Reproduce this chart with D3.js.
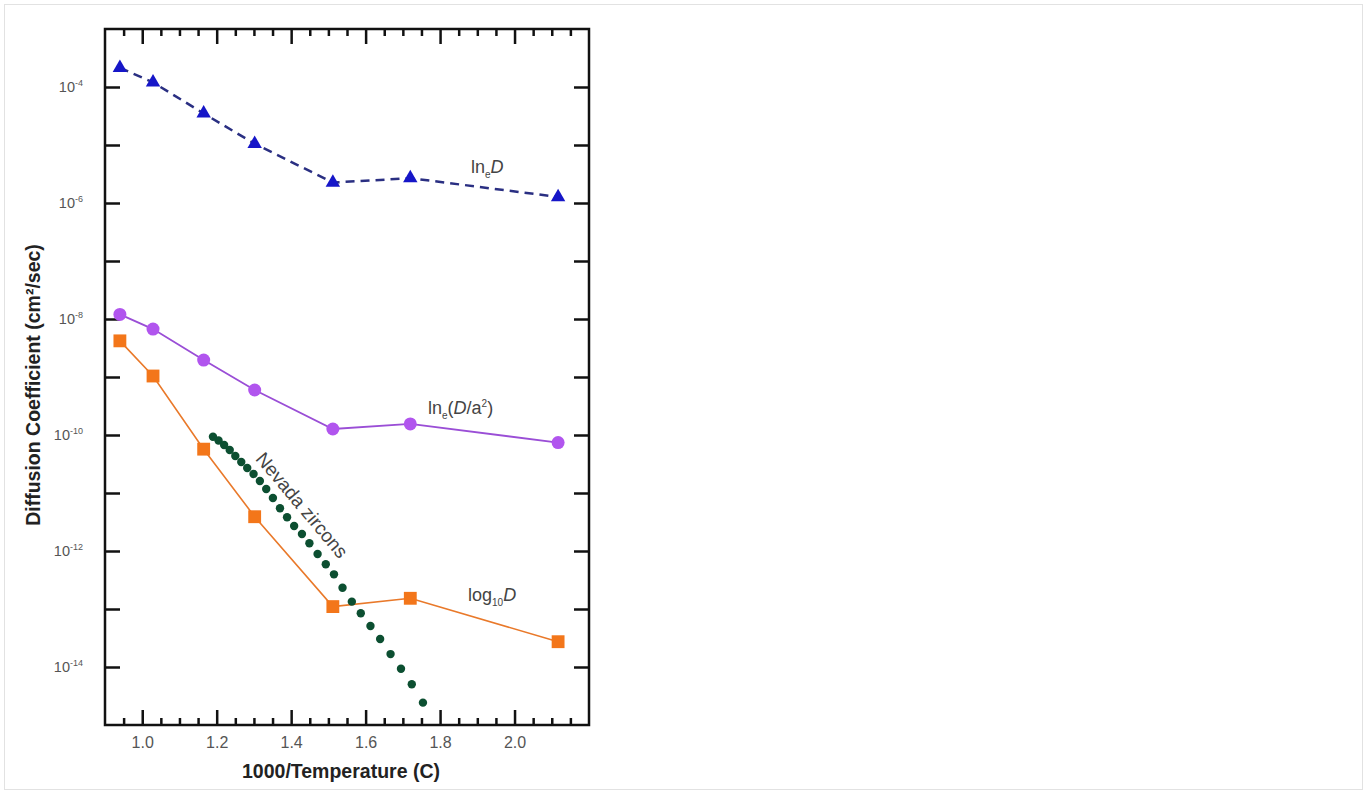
<!DOCTYPE html>
<html>
<head>
<meta charset="utf-8">
<script src="https://cdn.jsdelivr.net/npm/d3@7"></script>
<style>
  html, body { margin: 0; padding: 0; background: #fff; }
  svg { display: block; }
  text { font-family: Arial, "Liberation Sans", sans-serif; }
</style>
</head>
<body>
<svg id="chart" width="1368" height="794"></svg>
<script>
// ---- data ----
const xSteps = [0.940, 1.029, 1.165, 1.302, 1.512, 1.720, 2.117];
const lnD = [2.15e-4, 1.2e-4, 3.5e-5, 1.05e-5, 2.25e-6, 2.68e-6, 1.27e-6];
const lnDa2 = [1.2e-8, 6.7e-9, 1.96e-9, 5.97e-10, 1.27e-10, 1.55e-10, 7.4e-11];
const log10D = [4.2e-9, 1.04e-9, 5.7e-11, 3.9e-12, 1.1e-13, 1.53e-13, 2.73e-14];

const nevadaX = [1.190, 1.205, 1.220, 1.235, 1.250, 1.266, 1.282, 1.299, 1.316, 1.333,
                 1.351, 1.370, 1.389, 1.408, 1.429, 1.449, 1.471, 1.493, 1.515, 1.538,
                 1.563, 1.587, 1.613, 1.639, 1.667, 1.695, 1.724, 1.754];
const nevadaD = [9.35e-11, 8.04e-11, 6.73e-11, 5.51e-11, 4.35e-11, 3.42e-11, 2.70e-11, 2.13e-11, 1.61e-11, 1.17e-11,
                 8.2e-12, 5.45e-12, 3.81e-12, 2.70e-12, 1.96e-12, 1.36e-12, 8.87e-13, 5.90e-13, 3.96e-13, 2.33e-13,
                 1.34e-13, 8.43e-14, 5.09e-14, 3.04e-14, 1.67e-14, 9.35e-15, 5.04e-15, 2.43e-15];

const xMajorTicks = [1.0, 1.2, 1.4, 1.6, 1.8, 2.0];
const xMinorTicks = [0.95, 1.05, 1.1, 1.15, 1.25, 1.3, 1.35, 1.45, 1.5, 1.55, 1.65, 1.7, 1.75, 1.85, 1.9, 1.95, 2.05, 2.1, 2.15];
const yTickExps = [-14, -13, -12, -11, -10, -9, -8, -7, -6, -5, -4];
const yLabelExps = [-14, -12, -10, -8, -6, -4];

const xTitle = "1000/Temperature (C)";
const yTitle = "Diffusion Coefficient (cm²/sec)";

// ---- layout ----
const svg = d3.select("#chart");
const L = 105, R = 589, T = 29, B = 725;
const x = d3.scaleLinear().domain([0.9, 2.2]).range([L, R]);
const y = d3.scaleLog().domain([1e-15, 1e-3]).range([B, T]);

// outer light border
svg.append("rect").attr("x", 4.5).attr("y", 4.5).attr("width", 1358).attr("height", 785)
  .attr("fill", "#fff").attr("stroke", "#e2e2e2").attr("stroke-width", 1);

const axisStyle = g => {
  g.select(".domain").remove();
  g.selectAll("line").attr("stroke", "#111").attr("stroke-width", 2.5);
};

// bottom axis (major with labels)
svg.append("g").attr("transform", `translate(0,${B})`)
  .call(d3.axisBottom(x).tickValues(xMajorTicks).tickSize(-15).tickPadding(12).tickFormat(d3.format(".1f")))
  .call(axisStyle)
  .call(g => g.selectAll("text").attr("font-size", 16).attr("fill", "#555").attr("font-family", "Arial, 'Liberation Sans', sans-serif"));
svg.append("g").attr("transform", `translate(0,${B})`)
  .call(d3.axisBottom(x).tickValues(xMinorTicks).tickSize(-7).tickFormat(""))
  .call(axisStyle);
// top axis
svg.append("g").attr("transform", `translate(0,${T})`)
  .call(d3.axisTop(x).tickValues(xMajorTicks).tickSize(-15).tickFormat(""))
  .call(axisStyle);
svg.append("g").attr("transform", `translate(0,${T})`)
  .call(d3.axisTop(x).tickValues(xMinorTicks).tickSize(-7).tickFormat(""))
  .call(axisStyle);
// left / right axes
const yTicks = yTickExps.map(e => Math.pow(10, e));
svg.append("g").attr("transform", `translate(${L},0)`)
  .call(d3.axisLeft(y).tickValues(yTicks).tickSize(-15).tickFormat(""))
  .call(axisStyle);
svg.append("g").attr("transform", `translate(${R},0)`)
  .call(d3.axisRight(y).tickValues(yTicks).tickSize(-15).tickFormat(""))
  .call(axisStyle);

// y labels with superscripts
const yl = svg.append("g");
yLabelExps.forEach(e => {
  const t = yl.append("text")
    .attr("x", L - 22).attr("y", y(Math.pow(10, e)) + 5)
    .attr("text-anchor", "end").attr("fill", "#555").attr("font-size", 14.5);
  t.append("tspan").text("10");
  t.append("tspan").attr("font-size", 9).attr("dy", -6).text("-" + Math.abs(e));
});

// frame
svg.append("rect").attr("x", L).attr("y", T).attr("width", R - L).attr("height", B - T)
  .attr("fill", "none").attr("stroke", "#111").attr("stroke-width", 2.5);

// axis titles
svg.append("text").attr("x", (L + R) / 2 - 6).attr("y", 778)
  .attr("text-anchor", "middle").attr("font-weight", "bold").attr("font-size", 19.5).attr("fill", "#222")
  .text(xTitle);
svg.append("text").attr("transform", `translate(40,${(T + B) / 2 + 8}) rotate(-90)`)
  .attr("text-anchor", "middle").attr("font-weight", "bold").attr("font-size", 19.5).attr("fill", "#222")
  .text(yTitle);

// series
const line = d3.line().x(d => x(d[0])).y(d => y(d[1]));

// ln_e D (blue dashed with triangles)
const triData = xSteps.map((v, i) => [v, lnD[i]]);
svg.append("path").datum(triData).attr("d", line)
  .attr("fill", "none").attr("stroke", "#2a2f82").attr("stroke-width", 2.5).attr("stroke-dasharray", "9,6");
svg.append("g").selectAll("path").data(triData).join("path")
  .attr("transform", d => `translate(${x(d[0])},${y(d[1])})`)
  .attr("d", d3.symbol(d3.symbolTriangle, 90))
  .attr("fill", "#1616c8");

// ln_e(D/a^2) purple circles
const cirData = xSteps.map((v, i) => [v, lnDa2[i]]);
svg.append("path").datum(cirData).attr("d", line)
  .attr("fill", "none").attr("stroke", "#9a4ed6").attr("stroke-width", 1.8);
svg.append("g").selectAll("circle").data(cirData).join("circle")
  .attr("cx", d => x(d[0])).attr("cy", d => y(d[1])).attr("r", 6.5)
  .attr("fill", "#b155ee");

// log10 D orange squares
const sqData = xSteps.map((v, i) => [v, log10D[i]]);
svg.append("path").datum(sqData).attr("d", line)
  .attr("fill", "none").attr("stroke", "#e9792a").attr("stroke-width", 1.6);
svg.append("g").selectAll("path").data(sqData).join("path")
  .attr("transform", d => `translate(${x(d[0])},${y(d[1])})`)
  .attr("d", d3.symbol(d3.symbolSquare, 165))
  .attr("fill", "#f3761a");

// Nevada zircons dots
svg.append("g").selectAll("circle").data(nevadaX.map((v, i) => [v, nevadaD[i]])).join("circle")
  .attr("cx", d => x(d[0])).attr("cy", d => y(d[1])).attr("r", 4.2)
  .attr("fill", "#0c4f31");

// series labels
const lab = svg.append("g").attr("fill", "#444").attr("font-size", 18);
function subLabel(xp, yp, parts) {
  const t = lab.append("text").attr("x", xp).attr("y", yp);
  parts.forEach(p => {
    const s = t.append("tspan").text(p.t);
    if (p.sub) s.attr("font-size", 10).attr("dy", 5);
    if (p.sup) s.attr("font-size", 10).attr("dy", -7);
    if (p.back) s.attr("dy", p.back);
    if (p.it) s.attr("font-style", "italic");
  });
}
subLabel(471, 173, [{t: "ln"}, {t: "e", sub: true}, {t: "D", it: true, back: -5}]);
subLabel(428, 414, [{t: "ln"}, {t: "e", sub: true}, {t: "(", back: -5}, {t: "D", it: true}, {t: "/a"}, {t: "2", sup: true}, {t: ")", back: 7}]);
subLabel(468, 601, [{t: "log"}, {t: "10", sub: true}, {t: "D", it: true, back: -5}]);

svg.append("text")
  .attr("transform", "translate(302,505) rotate(50)")
  .attr("text-anchor", "middle").attr("dy", "0.35em")
  .attr("font-size", 19).attr("fill", "#444")
  .text("Nevada zircons");
</script>
</body>
</html>
